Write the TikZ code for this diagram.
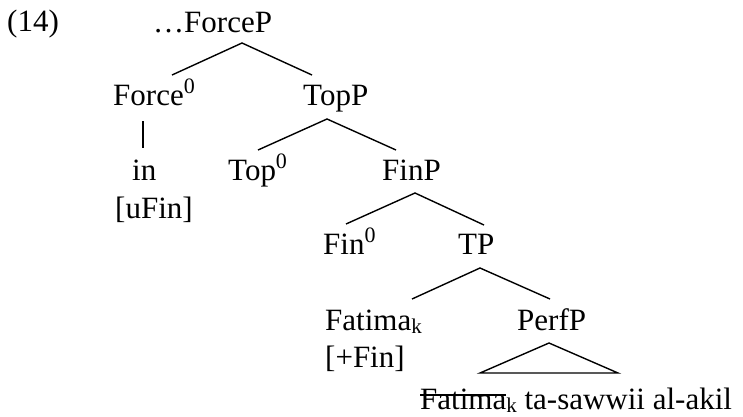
\documentclass[tikz,border=0pt]{standalone}
\usepackage{fontspec}
\setmainfont{Liberation Serif}
\newcommand{\treefont}{\fontsize{31}{36}\selectfont}
\newcommand{\hzero}{\raisebox{12pt}{\fontsize{22}{24}\selectfont 0}}
\newcommand{\idx}[1]{\raisebox{-3pt}{\fontsize{21}{22}\selectfont #1}}
\newsavebox{\strikebox}
\newcommand{\struck}[1]{\sbox{\strikebox}{#1}\rlap{\rule[13.4pt]{\wd\strikebox}{1.3pt}}\usebox{\strikebox}}
\tikzset{lbl/.style={anchor=base west,inner sep=0pt,font=\treefont},
         branch/.style={line width=1.4pt}}

\begin{document}
\begin{tikzpicture}[x=1pt,y=-1pt]
                \useasboundingbox (0,0) rectangle (743,416);
                \node[lbl] (ex) at (7,31) {(14)};
                \node[lbl] (forcep) at (153,32) {…ForceP};
                \node[lbl] (force0) at (113,105) {Force\hzero};
                \node[lbl] (topp) at (303,105) {TopP};
                \node[lbl] (in) at (132,180) {in};
                \node[lbl] (ufin) at (115,218) {[uFin]};
                \node[lbl] (top0) at (228,180) {Top\hzero};
                \node[lbl] (finp) at (382,180) {FinP};
                \node[lbl] (fin0) at (323,254) {Fin\hzero};
                \node[lbl] (tp) at (458,254) {TP};
                \node[lbl] (fatima) at (325,330) {Fatima\idx{k}};
                \node[lbl] (plusfin) at (325,367) {[+Fin]};
                \node[lbl] (perfp) at (517,330) {PerfP};
                \node[lbl] (trace) at (420,409) {\struck{Fatima}\idx{k} ta-sawwii al-akil};
                \draw[branch] ([shift={(59,-30)}]force0.base west)--([shift={(89,11)}]forcep.base west)--([shift={(9,-30)}]topp.base west);
                \draw[branch] ([shift={(30,16)}]force0.base west)--([shift={(11,-32)}]in.base west);
                \draw[branch] ([shift={(30,-30)}]top0.base west)--([shift={(24,14)}]topp.base west)--([shift={(14,-30)}]finp.base west);
                \draw[branch] ([shift={(23,-30)}]fin0.base west)--([shift={(33,13)}]finp.base west)--([shift={(26,-29)}]tp.base west);
                \draw[branch] ([shift={(87,-31)}]fatima.base west)--([shift={(22,14)}]tp.base west)--([shift={(33,-31)}]perfp.base west);
                \draw[branch] ([shift={(32,13)}]perfp.base west)--([shift={(60,-36)}]trace.base west)--([shift={(198,-36)}]trace.base west)--cycle;
\end{tikzpicture}
\end{document}
